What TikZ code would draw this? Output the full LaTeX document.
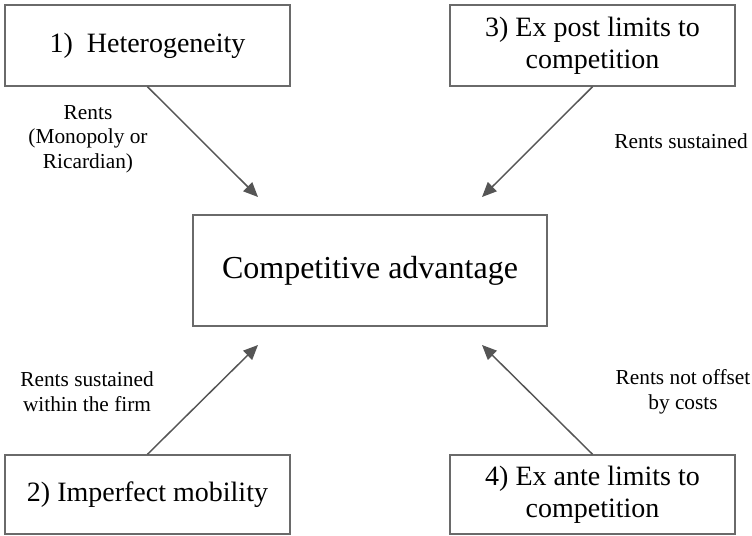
\documentclass[tikz,border=0pt]{standalone}
\usepackage{fontspec}
\setmainfont{Liberation Serif}
\newfontfamily\tnrfont{Liberation Serif}
\usetikzlibrary{arrows.meta}
\definecolor{boxgray}{HTML}{6A6A6A}
\definecolor{arrgray}{HTML}{555555}
\begin{document}
\begin{tikzpicture}[x=0.75pt,y=-0.75pt,
  factorbox/.style={draw=boxgray,line width=1.1pt,fill=white,inner sep=0pt,
    minimum width=213.75pt,minimum height=60.75pt,align=center,
    font=\tnrfont\fontsize{21}{24}\selectfont},
  mainbox/.style={draw=boxgray,line width=1.1pt,fill=white,inner sep=0pt,
    minimum width=265.5pt,minimum height=83.25pt,align=center,
    font=\tnrfont\fontsize{24}{28}\selectfont},
  lbl/.style={align=center,inner sep=0pt,font=\tnrfont\fontsize{16}{18.5}\selectfont},
  conn/.style={draw=arrgray,line width=1.1pt,
    -{Triangle[length=11pt,width=9.5pt]}}
]
\useasboundingbox (0,0) rectangle (752,535);
\node[factorbox] (b1) at (147.5,45.5) {1)\ \ Heterogeneity};
\node[factorbox] (b3) at (592.5,45.5) {3) Ex post limits to\\competition};
\node[factorbox,minimum height=59.25pt] (b2) at (147.5,494.5) {2) Imperfect mobility};
\node[factorbox,minimum height=59.25pt] (b4) at (592.5,494.5) {4) Ex ante limits to\\competition};
\node[mainbox] (ca) at (370,270.5) {Competitive advantage};

\coordinate (t1) at (258,197);
\coordinate (t3) at (482,197);
\coordinate (t2) at (258,345);
\coordinate (t4) at (482,345);

\draw[conn] (b1.south) -- (t1);
\draw[conn] (b3.south) -- (t3);
\draw[conn] (b2.north) -- (t2);
\draw[conn] (b4.north) -- (t4);

\node[lbl] (l1) at (88,139) {Rents\\(Monopoly or\\Ricardian)};
\node[lbl] (l3) at (681,141) {Rents sustained};
\node[lbl] (l2) at (87,392) {Rents sustained\\within the firm};
\node[lbl] (l4) at (683,392) {Rents not offset\\by costs};
\end{tikzpicture}
\end{document}
